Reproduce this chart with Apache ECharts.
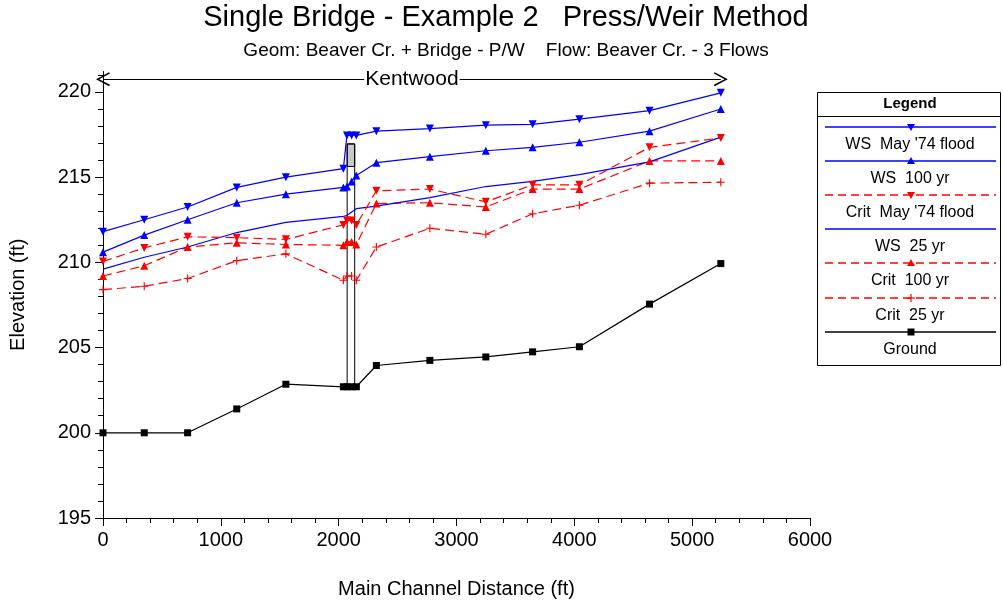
<!DOCTYPE html>
<html>
<head>
<meta charset="utf-8">
<title>Single Bridge - Example 2</title>
<script src="https://cdn.jsdelivr.net/npm/echarts@6/dist/echarts.min.js"></script>
<style>
html,body{margin:0;padding:0;background:#fff;}
#chart{width:1003px;height:604px;}
</style>
</head>
<body>
<div id="chart"></div>
<script>
// river stations (ft) shared by every profile
var stations = [0, 350, 718, 1135, 1552, 2040, 2070, 2110, 2150, 2320, 2774, 3249, 3646, 4043, 4638, 5243];
var wsMay74 = [211.8, 212.5, 213.25, 214.4, 215.0, 215.5, 217.45, 217.45, 217.45, 217.7, 217.85, 218.05, 218.1, 218.4, 218.9, 219.95];
var ws100 = [210.6, 211.6, 212.5, 213.5, 214.0, 214.4, 214.45, 214.75, 215.1, 215.85, 216.2, 216.55, 216.75, 217.05, 217.7, 219.0];
var critMay74 = [210.05, 210.85, 211.5, 211.45, 211.35, 212.2, 212.45, 212.45, 212.2, 214.2, 214.3, 213.55, 214.55, 214.55, 216.75, 217.3];
var ws25 = [209.6, 210.3, 210.9, 211.75, 212.35, 212.7, 212.75, 212.95, 213.15, 213.3, 213.8, 214.45, 214.75, 215.15, 215.9, 217.35];
var crit100 = [209.2, 209.8, 210.9, 211.15, 211.05, 211.0, 211.2, 211.2, 211.05, 213.45, 213.5, 213.25, 214.3, 214.3, 215.95, 215.95];
var crit25 = [208.4, 208.6, 209.05, 210.1, 210.5, 208.95, 209.2, 209.2, 208.95, 210.9, 212.0, 211.65, 212.85, 213.35, 214.65, 214.7];
var ground = [200.0, 200.0, 200.0, 201.4, 202.85, 202.7, 202.7, 202.7, 202.7, 203.95, 204.25, 204.45, 204.75, 205.05, 207.55, 209.93];

// bridge: pier stations, ground, low chord, high chord
var bridgeSta = [2072, 2136];
var bridgeGround = 202.7;
var bridgeLow = 215.63;
var bridgeHigh = 216.95;

// reach label line
var reachName = 'Kentwood';
var reachSta = [0, 5243];
var reachElev = 220.75;
var reachBarElev = [219.95, 221.3];

var yMajor = [195, 200, 205, 210, 215, 220];
var yMinor = [196, 197, 198, 199, 201, 202, 203, 204, 206, 207, 208, 209, 211, 212, 213, 214, 216, 217, 218, 219, 221];

var legendNames = ["WS  May '74 flood", "WS  100 yr", "Crit  May '74 flood", "WS  25 yr", "Crit  100 yr", "Crit  25 yr", "Ground"];

var FONT = "'Liberation Sans', Arial, sans-serif";
var PLUS = 'path://M4.3,0H5.7V4.3H10V5.7H5.7V10H4.3V5.7H0V4.3H4.3Z';
var CHEVRON = 'path://M5,0L10,9L9,9.6L5,2.2L1,9.6L0,9Z';

function pairs(ys){
    return stations.map(function(s, i){ return [s, ys[i]]; });
}

function profile(name, ys, color, dashed, symbol, rotate, size){
    return {
        name: name,
        type: 'line',
        data: pairs(ys),
        symbol: symbol,
        symbolSize: size,
        symbolRotate: rotate,
        showAllSymbol: true,
        lineStyle: {color: color, width: 1.2, type: dashed ? [9, 5] : 'solid'},
        itemStyle: {color: color},
        emphasis: {disabled: true},
        z: 3
    };
}

// legend drawn as a boxed table, icon line above each name
var legendStyle = [
    {color: '#0000ff', dash: null, mark: 'down'},
    {color: '#0000ff', dash: null, mark: 'up'},
    {color: '#ff0000', dash: [8, 5], mark: 'down'},
    {color: '#0000ff', dash: null, mark: null},
    {color: '#ff0000', dash: [8, 5], mark: 'up'},
    {color: '#ff0000', dash: [8, 5], mark: 'plus'},
    {color: '#000000', dash: null, mark: 'square'}
];
var lg = [];
lg.push({type: 'rect', shape: {x: 817.5, y: 92.5, width: 183, height: 273}, style: {fill: '#fff', stroke: '#000', lineWidth: 1}});
lg.push({type: 'line', shape: {x1: 817.5, y1: 116.5, x2: 1000.5, y2: 116.5}, style: {stroke: '#000', lineWidth: 1}});
lg.push({type: 'text', x: 910, y: 103.5, style: {text: 'Legend', font: 'bold 15px ' + FONT, fill: '#000', align: 'center', verticalAlign: 'middle'}});
legendNames.forEach(function(n, i){
    var st = legendStyle[i];
    var ly = Math.round(127 + i * 34.1);
    var mx = 911;
    lg.push({type: 'line', shape: {x1: 825, y1: ly, x2: 996, y2: ly}, style: {stroke: st.color, lineWidth: 1.3, lineDash: st.dash}});
    if (st.mark === 'down') {
        lg.push({type: 'polygon', shape: {points: [[mx - 4, ly - 3], [mx + 4, ly - 3], [mx, ly + 4]]}, style: {fill: st.color}});
    } else if (st.mark === 'up') {
        lg.push({type: 'polygon', shape: {points: [[mx - 4, ly + 3], [mx + 4, ly + 3], [mx, ly - 4]]}, style: {fill: st.color}});
    } else if (st.mark === 'plus') {
        lg.push({type: 'line', shape: {x1: mx, y1: ly - 4, x2: mx, y2: ly + 4}, style: {stroke: st.color, lineWidth: 1.2}});
        lg.push({type: 'line', shape: {x1: mx - 4, y1: ly, x2: mx + 4, y2: ly}, style: {stroke: st.color, lineWidth: 1.2}});
    } else if (st.mark === 'square') {
        lg.push({type: 'rect', shape: {x: mx - 3.5, y: ly - 3.5, width: 7, height: 7}, style: {fill: st.color}});
    }
    lg.push({type: 'text', x: 910, y: ly + 18, style: {text: n, font: '16px ' + FONT, fill: '#000', align: 'center', verticalAlign: 'middle'}});
});

var chart = echarts.init(document.getElementById('chart'));
chart.setOption({
    animation: false,
    backgroundColor: '#fff',
    textStyle: {fontFamily: FONT, color: '#000'},
    title: {
        text: 'Single Bridge - Example 2   Press/Weir Method',
        subtext: 'Geom: Beaver Cr. + Bridge - P/W    Flow: Beaver Cr. - 3 Flows',
        left: 506,
        textAlign: 'center',
        top: 3,
        padding: 0,
        itemGap: 9,
        textStyle: {fontSize: 29, fontWeight: 'normal', color: '#000', fontFamily: FONT},
        subtextStyle: {fontSize: 19, color: '#000', fontFamily: FONT}
    },
    grid: {left: 103, right: 193, top: 71.5, bottom: 85, containLabel: false},
    xAxis: {
        type: 'value',
        min: 0, max: 6000, interval: 1000,
        name: 'Main Channel Distance (ft)',
        nameLocation: 'middle',
        nameGap: 61,
        nameTextStyle: {fontSize: 20, color: '#000', fontFamily: FONT},
        axisLine: {show: true, lineStyle: {color: '#000', width: 1}},
        axisTick: {show: true, length: 8, lineStyle: {color: '#000'}},
        minorTick: {show: true, splitNumber: 5, length: 5, lineStyle: {color: '#000'}},
        axisLabel: {fontSize: 20, color: '#000', margin: 12, fontFamily: FONT, formatter: function(v){ return String(v); }},
        splitLine: {show: false}
    },
    yAxis: [{
        type: 'value',
        min: 195, max: 221.2,
        position: 'left',
        name: 'Elevation (ft)',
        nameLocation: 'middle',
        nameGap: 75,
        nameTextStyle: {fontSize: 20, color: '#000', fontFamily: FONT},
        axisLine: {show: true, lineStyle: {color: '#000', width: 1}},
        axisTick: {show: true, length: 8, customValues: yMajor, lineStyle: {color: '#000'}},
        axisLabel: {fontSize: 20, color: '#000', margin: 12, customValues: yMajor, fontFamily: FONT},
        splitLine: {show: false}
    }, {
        type: 'value',
        min: 195, max: 221.2,
        position: 'left',
        axisLine: {show: false},
        axisTick: {show: true, length: 5, customValues: yMinor, lineStyle: {color: '#000'}},
        axisLabel: {show: false},
        splitLine: {show: false}
    }],
    graphic: lg,
    series: [
        {
            name: 'Bridge',
            type: 'line',
            data: [[bridgeSta[0], bridgeGround], [bridgeSta[0], bridgeHigh], [bridgeSta[1], bridgeHigh], [bridgeSta[1], bridgeGround]],
            symbol: 'none',
            lineStyle: {color: '#000', width: 1},
            emphasis: {disabled: true},
            z: 2,
            markArea: {
                silent: true,
                itemStyle: {color: '#c8c8c8', borderColor: '#000', borderWidth: 1},
                data: [[{coord: [bridgeSta[0], bridgeLow]}, {coord: [bridgeSta[1], bridgeHigh]}]]
            }
        },
        {
            name: 'Reach',
            type: 'line',
            data: [],
            markLine: {
                silent: true,
                symbol: [CHEVRON, CHEVRON],
                symbolSize: 14,
                lineStyle: {color: '#000', width: 1, type: 'solid'},
                label: {show: true, position: 'insideMiddle', formatter: reachName, color: '#000', fontSize: 21, fontFamily: FONT, backgroundColor: '#fff', padding: [0, 1]},
                data: [[{coord: [reachSta[0], reachElev]}, {coord: [reachSta[1], reachElev]}]]
            }
        },
        {
            name: 'ReachEnd',
            type: 'line',
            data: [],
            markLine: {
                silent: true,
                symbol: 'none',
                lineStyle: {color: '#000', width: 1, type: 'solid'},
                label: {show: false},
                data: [[{coord: [reachSta[1], reachBarElev[0]]}, {coord: [reachSta[1], reachBarElev[1]]}]]
            }
        },
        profile(legendNames[6], ground, '#000000', false, 'rect', 0, 7),
        profile(legendNames[5], crit25, '#ff0000', true, PLUS, 0, 8),
        profile(legendNames[4], crit100, '#ff0000', true, 'triangle', 0, 8),
        profile(legendNames[3], ws25, '#0000ff', false, 'none', 0, 0),
        profile(legendNames[2], critMay74, '#ff0000', true, 'triangle', 180, 8),
        profile(legendNames[1], ws100, '#0000ff', false, 'triangle', 0, 8),
        profile(legendNames[0], wsMay74, '#0000ff', false, 'triangle', 180, 8)
    ]
});
</script>
</body>
</html>
